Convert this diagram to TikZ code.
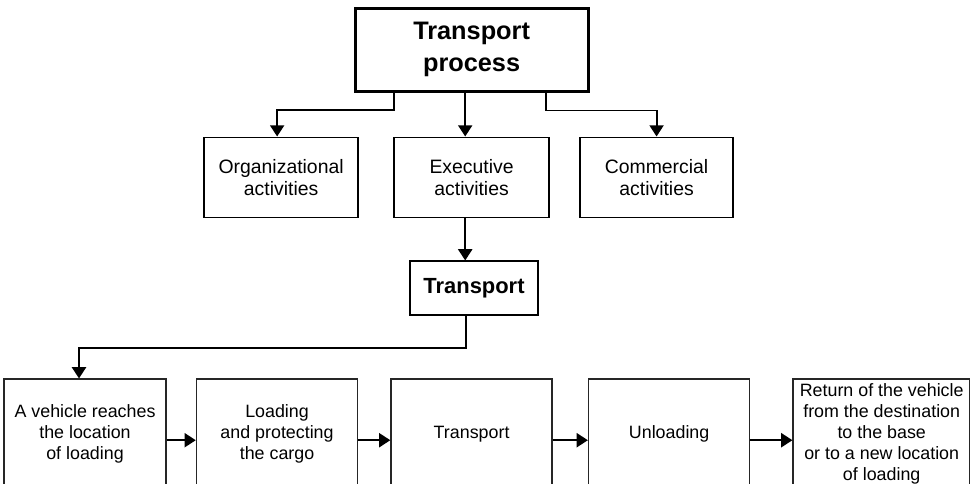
\documentclass[tikz,border=0pt]{standalone}
\usepackage{fontspec}
\setmainfont{Liberation Sans}
\usetikzlibrary{arrows.meta,positioning}

\begin{document}
\begin{tikzpicture}
\tikzset{
    %arrow tip
    >={Triangle[width=10pt,length=8pt]},
    %node styles
    haupt/.style={
           rectangle, draw=black, line width=2pt,
           minimum width=5.825cm, minimum height=2.075cm,
           align=center, font=\fontsize{18}{23}\selectfont\bfseries},
    mittel/.style={
           rectangle, draw=black, line width=1.4pt,
           minimum width=3.85cm, minimum height=2cm,
           align=center, font=\fontsize{13.8}{15.5}\selectfont},
    schritt/.style={
           rectangle, draw=black!85, line width=1.1pt,
           minimum width=4.025cm, minimum height=2.75cm, inner sep=1pt,
           align=center, font=\fontsize{12.7}{14.9}\selectfont},
    pfeil/.style={->, line width=1.4pt}
}
\useasboundingbox (0,0) rectangle (24.25,-12.1);

%top
\node[haupt] (proc) at (11.79,-1.24) {Transport\\process};

%activities
\node[mittel, minimum width=3.875cm, below=1.1cm of proc] (exec) {Executive\\activities};
\node[mittel, left=0.85cm of exec] (org) {Organizational\\activities};
\node[mittel, minimum width=3.825cm, right=0.725cm of exec] (comm) {Commercial\\activities};

%transport
\node[mittel, minimum width=3.2cm, minimum height=1.35cm, below=1.05cm of exec, xshift=0.06cm,
      font=\fontsize{15.6}{18}\selectfont\bfseries] (trans) {Transport};

%steps
\node[schritt, below=1.55cm of trans, xshift=-0.06cm] (fahrt) {Transport};
\node[schritt, left=0.8cm of fahrt] (laden) {Loading\\and protecting\\the cargo};
\node[schritt, minimum width=4.05cm, left=0.725cm of laden] (anfahrt) {A vehicle reaches\\the location\\of loading};
\node[schritt, right=0.875cm of fahrt] (entladen) {Unloading};
\node[schritt, minimum width=4.425cm, right=1.05cm of entladen] (rueck) {Return of the vehicle\\from the destination\\to the base\\or to a new location\\of loading};

%arrows
\draw[pfeil] ([xshift=-1.94cm]proc.south) -- ++(0,-0.43) -| ([xshift=-0.1cm]org.north);
\draw[pfeil] ([xshift=-0.16cm]proc.south) -- ([xshift=-0.16cm]proc.south |- exec.north);
\draw[pfeil] ([xshift=1.86cm]proc.south) -- ++(0,-0.45) -| (comm.north);
\draw[pfeil] ([xshift=-0.16cm]exec.south) -- ([xshift=-0.16cm]exec.south |- trans.north);
\draw[pfeil] ([xshift=-0.2cm]trans.south) -- ++(0,-0.8) -| ([xshift=-0.15cm]anfahrt.north);
\draw[pfeil] ([yshift=-0.15cm]anfahrt.east) -- ([yshift=-0.15cm]laden.west);
\draw[pfeil] ([yshift=-0.15cm]laden.east) -- ([yshift=-0.15cm]fahrt.west);
\draw[pfeil] ([yshift=-0.15cm]fahrt.east) -- ([yshift=-0.15cm]entladen.west);
\draw[pfeil] ([yshift=-0.15cm]entladen.east) -- ([yshift=-0.15cm]rueck.west);
\end{tikzpicture}
\end{document}
